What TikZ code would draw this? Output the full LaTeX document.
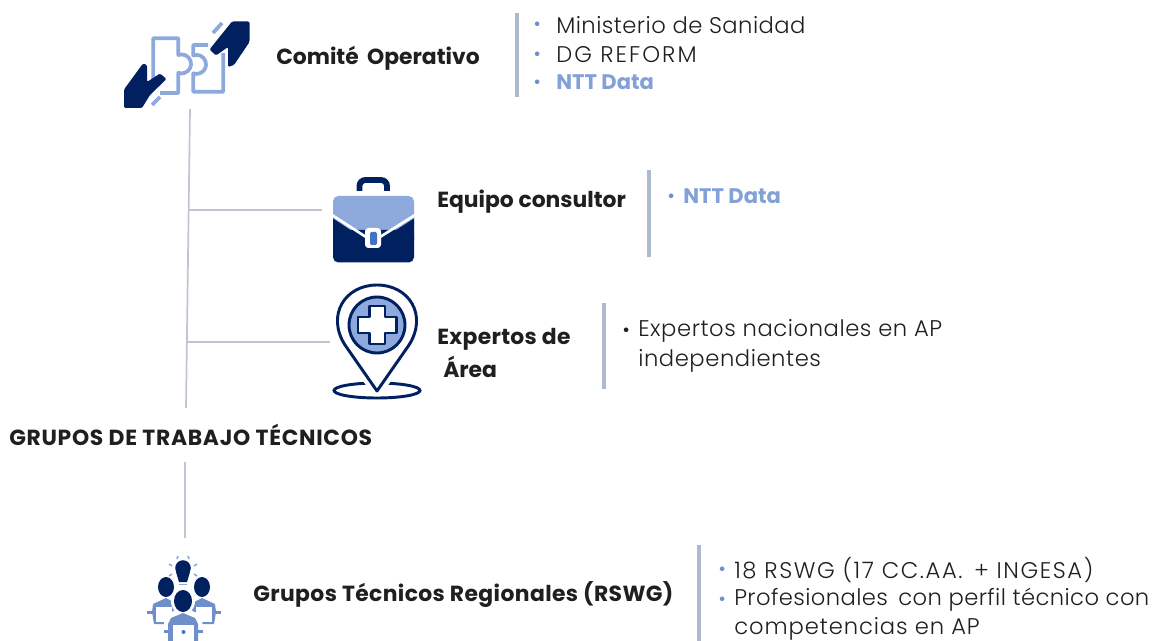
\documentclass[tikz,border=0pt]{standalone}
\usepackage{fontspec}
\setmainfont{Poppins}
\newfontfamily\lightfont{Poppins Light}
\definecolor{navy}{HTML}{002060}
\definecolor{lblue}{HTML}{8EA9DB}
\definecolor{mblue}{HTML}{4472C4}
\definecolor{bodyblue}{HTML}{6F8FCB}
\definecolor{rule}{HTML}{ADB9CF}
\definecolor{conn}{HTML}{BFC5D2}
\definecolor{txt}{HTML}{1F1F1F}
\newcommand{\spc}[1]{\addfontfeature{LetterSpace=#1}}
\tikzset{
  lbl/.style={anchor=west,inner sep=0pt,font=\fontsize{16.4}{18}\selectfont\bfseries,text=txt},
  itm/.style={anchor=west,inner sep=0pt,font=\lightfont\fontsize{17}{21}\selectfont,text=txt},
  hit/.style={anchor=west,inner sep=0pt,font=\fontsize{15.8}{18}\selectfont\bfseries,text=lblue!85!mblue},
  bul/.style={anchor=west,inner sep=0pt,font=\fontsize{14}{18}\selectfont,text=bodyblue},
  bar/.style={draw=rule,line width=3pt},
  link/.style={draw=conn,line width=1.3pt},
  pz/.style={draw=lblue,line width=2.8pt,line join=round}
}
\begin{document}
\begin{tikzpicture}[x=0.75pt,y=-0.75pt]
\useasboundingbox (0,0) rectangle (1152,641);
% connectors
\coordinate (t1) at (190,109);
\coordinate (t2) at (186,408);
\coordinate (t3) at (185,462);
\coordinate (t4) at (185,538);
\coordinate (j1) at (188.6,210);
\coordinate (j2) at (187.2,342);
\coordinate (e1) at (322,210);
\coordinate (e2) at (330,342);
\draw[link] (t1) -- (t2);
\draw[link] (t3) -- (t4);
\draw[link] (j1) -- (e1);
\draw[link] (j2) -- (e2);
% handshake puzzle icon
\draw[pz] (153.3,84) -- (153.3,38.3) -- (178.3,38.3) -- (178.3,55) arc[start angle=-110,end angle=110,radius=9.5] -- (178.3,93) -- (160,93);
\draw[pz] (208,45) -- (193.3,45) -- (193.3,55.5) arc[start angle=-110,end angle=110,radius=9.5] -- (193.3,91.7) -- (223.3,91.7) -- (223.3,53);
\draw[pz] (152,105) -- (160,97);
\draw[pz] (213,33) -- (222,23);
\fill[navy,rounded corners=1pt] (124,89.5) -- (143,63.5) -- (147,65) -- (147,82) -- (160,73.5) -- (166.5,79) -- (150,95) -- (142,108) -- (124,108) -- cycle;
\fill[navy,rounded corners=1pt] (232,21.5) -- (249.5,21.5) -- (249.5,42) -- (234,65) -- (228,67) -- (228,47) -- (216,55.5) -- (209.5,49.5) -- cycle;
% briefcase icon
\draw[navy,line width=4.4pt] (359.5,191) -- (359.5,186) arc[start angle=180,end angle=270,radius=6] -- (381,180) arc[start angle=270,end angle=360,radius=6] -- (387,191);
\fill[lblue,rounded corners=4pt] (333,196) rectangle (414,240);
\fill[lblue] (333,212) -- (414,212) -- (414,218) -- (373,245) -- (333,218) -- cycle;
\fill[navy,rounded corners=4pt] (333,230) -- (333,262.5) -- (414,262.5) -- (414,230) -- cycle;
\fill[navy] (333,218.5) -- (373,245) -- (414,218.5) -- (414,240) -- (333,240) -- cycle;
\draw[white,line width=2pt] (332,215) -- (366,237);
\draw[white,line width=2pt] (415,215) -- (380,237);
\fill[white,rounded corners=2.5pt] (365,228) rectangle (381,248);
\fill[mblue,rounded corners=1pt] (370,232) rectangle (377,245);
% pin icon
\draw[navy,line width=2.2pt] (377,390.5) ellipse[x radius=43,y radius=7.5];
\draw[white,line width=6pt] (377,393) -- (352,360) (377,393) -- (402,360);
\draw[navy,line width=2.2pt,fill=white,line join=round] (377,391) -- (345,345) .. controls (326,315) and (345,285) .. (377,285) .. controls (409,285) and (428,315) .. (409,345) -- cycle;
\draw[navy,line width=2.2pt,fill=lblue] (377,325) circle[radius=28];
\draw[navy,line width=1.6pt,fill=white,line join=round] (369.5,306) -- (385,306) -- (385,317) -- (396.5,317) -- (396.5,333) -- (385,333) -- (385,344) -- (369.5,344) -- (369.5,333) -- (358,333) -- (358,317) -- (369.5,317) -- cycle;
% team icon
\fill[navy] (183,568) circle[radius=7.8];
\fill[navy] (176,572) -- (190,572) -- (187,582) -- (179,582) -- cycle;
\draw[lblue,line width=1.2pt] (179,584.5) -- (187,584.5);
\draw[lblue,line width=1.2pt] (172,566) -- (169,564) (178,556) -- (177,559) (188,556) -- (189,559) (194,566) -- (197,564) (172,574) -- (169,576) (194,574) -- (197,576);
\fill[navy] (166,587) ellipse[x radius=8,y radius=10];
\fill[navy] (202,587) ellipse[x radius=8,y radius=10];
\fill[bodyblue] (152,612) -- (153,604) -- (166,598) -- (178,604) -- (178,624) -- (154,624) -- cycle;
\fill[bodyblue] (190,604) -- (202,598) -- (215,604) -- (216,612) -- (214,624) -- (190,624) -- cycle;
\fill[bodyblue] (147,611) rectangle (156,614);
\fill[bodyblue] (212,611) rectangle (221,614);
\fill[white] (156,607) rectangle (172,622);
\fill[white] (196,607) rectangle (212,622);
\fill[white] (183,601) ellipse[x radius=12,y radius=14];
\fill[white] (164,618) -- (171,612) -- (183,608) -- (195,612) -- (202,618) -- (204,641) -- (164,641) -- cycle;
\fill[navy] (183,601) ellipse[x radius=9,y radius=11];
\fill[bodyblue] (168,641) -- (168,624) -- (171,618) -- (183,613) -- (195,618) -- (198,624) -- (198,641) -- cycle;
\fill[bodyblue] (164,630) rectangle (172,633);
\fill[bodyblue] (194,630) rectangle (203,633);
\fill[white] (172.5,625) rectangle (193.5,641);
\fill[mblue] (183.5,632) circle[radius=2];
% Comite
\node[lbl] (comite) at (276,58) {Comité\, Operativo};
\draw[bar] (517,13) -- (517,97);
\node[bul] (b1) at (533,26) {•};
\node[bul] (b2) at (533,56) {•};
\node[bul] (b3) at (533,84) {•};
\node[itm] (m1) at (556,25) {\spc{2}Ministerio de Sanidad};
\node[itm] (m2) at (556,55) {\spc{9}DG REFORM};
\node[hit] (m3) at (556,82) {NTT Data};
% Equipo
\node[lbl] (equipo) at (437,202) {Equipo consultor};
\draw[bar] (649,170) -- (649,257);
\node[bul] (b4) at (667,198) {•};
\node[hit] (n1) at (683,196) {NTT Data};
% Expertos
\node[lbl] (exp1) at (437,339) {\spc{1.5}Expertos de};
\node[lbl] (exp2) at (443,367) {Área};
\draw[bar] (604,303) -- (604,389);
\node[bul,text=txt] (b5) at (622,332) {•};
\node[itm] (x1) at (638,331) {\spc{2.5}Expertos nacionales en AP};
\node[itm] (x2) at (638,361) {\spc{2.5}independientes};
% Grupos
\node[lbl] (gt) at (9,435) {\spc{3.2}GRUPOS DE TRABAJO TÉCNICOS};
% RSWG
\node[lbl] (rswg) at (253,595) {\spc{1.8}Grupos Técnicos Regionales (RSWG)};
\draw[bar] (699,545) -- (699,641);
\node[bul] (b6) at (718,571) {•};
\node[bul] (b7) at (718,601) {•};
\node[itm] (r1) at (734,570) {\spc{7}18 RSWG (17 CC.AA.\, + INGESA)};
\node[itm] (r2) at (734,600) {\spc{1.8}Profesionales\, con perfil técnico con};
\node[itm] (r3) at (734,629) {\spc{4}competencias en AP};
\end{tikzpicture}
\end{document}
